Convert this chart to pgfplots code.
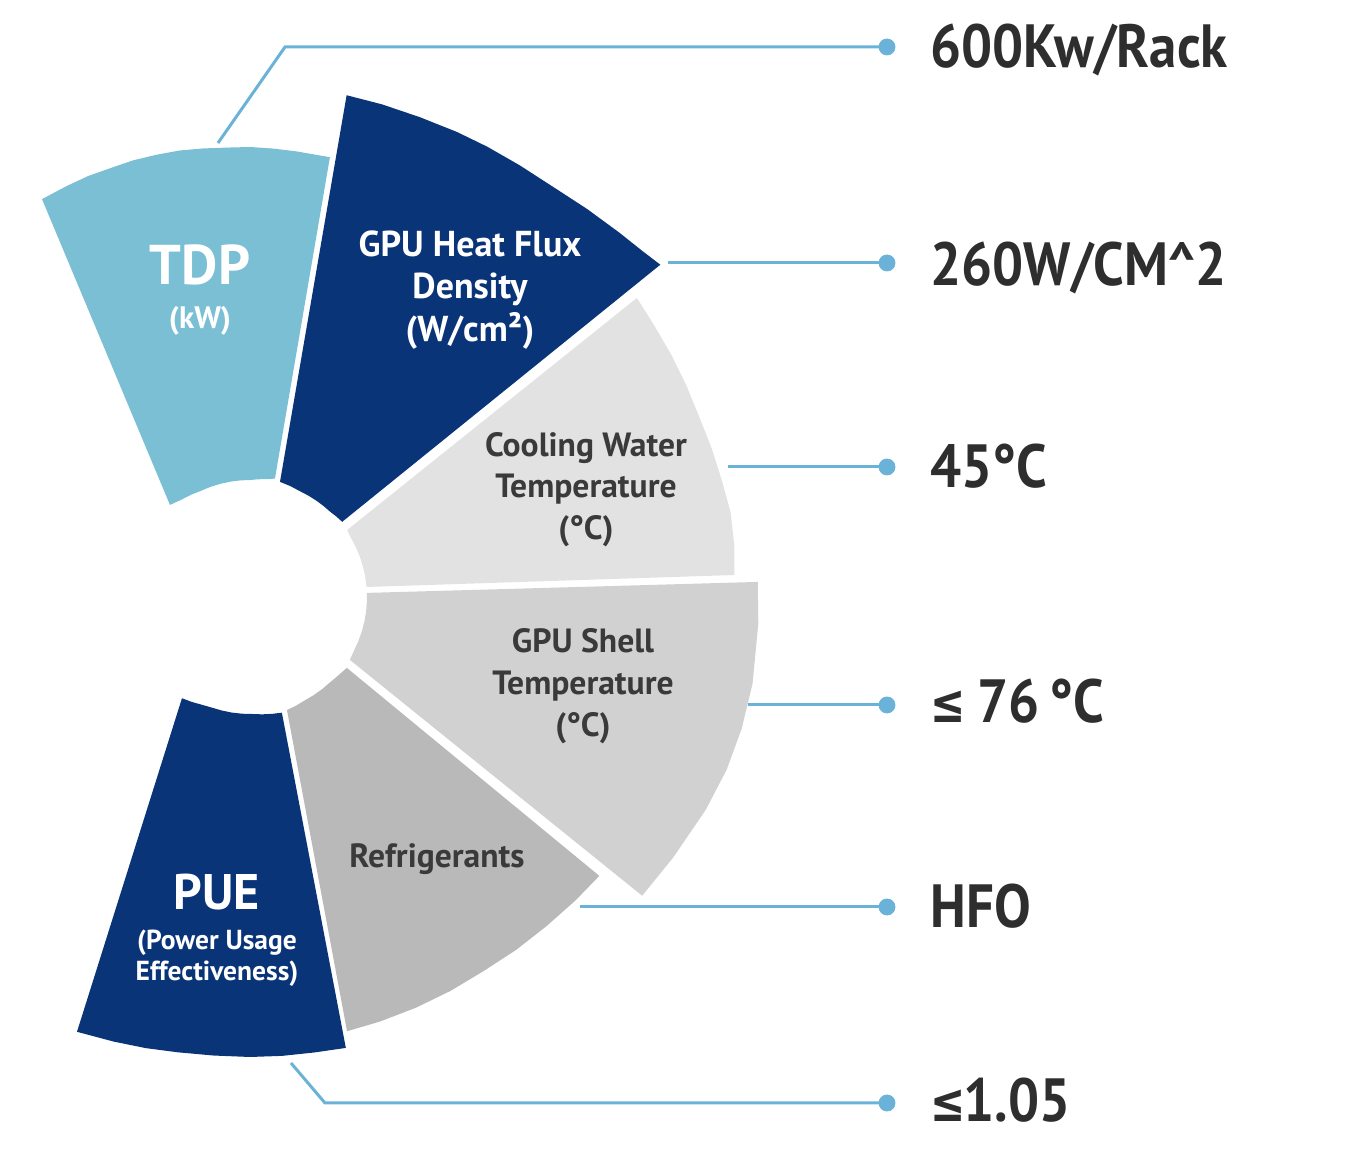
\documentclass[border=0pt]{standalone}
\usepackage{fontspec}
\setmainfont{PT Sans}
\newfontfamily\lblfont{PT Sans}[FakeStretch=0.9]
\newfontfamily\symfont{DejaVu Sans}[FakeStretch=0.78]
\usepackage{pgfplots}
\pgfplotsset{compat=1.18}
\usepgfplotslibrary{polar}
\definecolor{lblue}{HTML}{7BBFD4}
\definecolor{navy}{HTML}{0A3478}
\definecolor{gA}{HTML}{E2E2E2}
\definecolor{gB}{HTML}{D1D1D1}
\definecolor{gC}{HTML}{B9B9B9}
\definecolor{linec}{HTML}{6AB2D7}
\definecolor{txt}{HTML}{2E2E2E}
\definecolor{gtxt}{HTML}{3A3A3A}
\newcommand{\LE}{{\symfont\fontsize{27}{30}\selectfont\bfseries ≤}}
\begin{document}
\begin{tikzpicture}
\begin{axis}[x=0.5pt, y=0.5pt, xmin=-250, xmax=1116, ymin=-554, ymax=597,
  hide axis, clip=false]
\path (rel axis cs:0,0) rectangle (rel axis cs:1,1);
% TDP
\addplot[fill=lblue, draw=none, data cs=polar] coordinates {
(117.6,449) (114,450) (111,451) (108,451) (105,452) (102,452) (99,452) (96,451)
(93,450) (90,450) (87,449) (84,448) (81,447) (79.7,447)
(78.1,121) (82,119) (86,118) (90,117) (95,117) (100,117) (105,117) (110,117)
(115,117) (120,118) (125,119) (131,122)} -- cycle;
% GPU Heat Flux
\addplot[fill=navy, draw=none, data cs=polar] coordinates {
(79.1,511) (75,510) (70.5,509) (66,509) (62.2,509) (58,509) (53.5,510) (49,514)
(44.5,519) (41.5,523) (39,528)
(39.2,119) (43,118) (47,117) (51,117) (55,117) (60,117) (65,117) (70,118) (75.4,119)} -- cycle;
% Cooling Water
\addplot[fill=gA, draw=none, data cs=polar] coordinates {
(34.6,118) (37.7,489) (34,487) (30,486) (26,485) (22,484) (18,485) (14,486) (10,488)
(6,487) (2.6,485)
(4.9,117) (10,117) (15,117) (20,117) (25,117) (30,117)} -- cycle;
% GPU Shell
\addplot[fill=gB, draw=none, data cs=polar] coordinates {
(2,117) (1.7,508) (-3,509) (-9.8,510) (-15,509) (-19.9,507) (-25,503) (-31.6,497) (-37.3,493)
(-32.2,118) (-27,117) (-22,117) (-17,117) (-12,117) (-7,117) (-2,117)} -- cycle;
% Refrigerants
\addplot[fill=gC, draw=none, data cs=polar] coordinates {
(-36.2,120) (-38.6,447) (-43,445) (-48,443) (-53,442) (-58,441) (-63,442) (-68,443)
(-73,444) (-77.4,445)
(-71.9,119) (-67,118) (-62,117) (-57,117) (-52,117) (-47,117) (-42,118)} -- cycle;
% PUE
\addplot[fill=navy, draw=none, data cs=polar] coordinates {
(-74.6,120) (-78,461) (-82,460) (-86,460) (-90,460) (-94.5,460) (-99,461) (-103,463)
(-107,465) (-111.7,468)
(-123.9,122) (-119,120) (-114,118) (-109,117) (-104,117) (-99,117) (-94,117)
(-89,117) (-84,118) (-79,119)} -- cycle;
% connector lines
\addplot[linec, line width=1.5pt] coordinates {(-32,454) (35,550) (637,550)};
\addplot[linec, line width=1.5pt] coordinates {(418,334) (637,334)};
\addplot[linec, line width=1.5pt] coordinates {(478,130) (637,130)};
\addplot[linec, line width=1.5pt] coordinates {(498,-108) (637,-108)};
\addplot[linec, line width=1.5pt] coordinates {(330,-310) (637,-310)};
\addplot[linec, line width=1.5pt] coordinates {(41,-466) (75,-506) (637,-506)};
\addplot[only marks, mark=*, mark size=4pt, mark options={fill=linec, draw=linec}]
  coordinates {(637,550) (637,334) (637,130) (637,-108) (637,-310) (637,-506)};
% right labels
\begin{scope}[every node/.style={inner sep=0pt, anchor=base west, text=txt, font=\lblfont\fontsize{30.5}{36}\selectfont\bfseries}]
\node at (axis cs:680,529) {600Kw/Rack};
\node at (axis cs:680,311) {260W/CM\textasciicircum 2};
\node at (axis cs:680,109) {45°C};
\node at (axis cs:680,-126) {\LE\hspace{6pt}76\hspace{5pt}°C};
\node at (axis cs:680,-331) {HFO};
\node at (axis cs:680,-525) {\LE\hspace{-1pt}1.05};
\end{scope}
% sector labels
\begin{scope}[every node/.style={inner sep=0pt, anchor=base}]
\node[text=white, font=\fontsize{28}{34}\selectfont\bfseries] at (axis cs:-50,312) {TDP};
\node[text=white, font=\fontsize{15.5}{18}\selectfont\bfseries] at (axis cs:-50,268) {(kW)};
\node[text=white, font=\fontsize{18}{21}\selectfont\bfseries] at (axis cs:220,340) {GPU Heat Flux};
\node[text=white, font=\fontsize{18}{21}\selectfont\bfseries] at (axis cs:220,298) {Density};
\node[text=white, font=\fontsize{18}{21}\selectfont\bfseries] at (axis cs:220,255) {(W/cm²)};
\node[text=gtxt, font=\fontsize{16.8}{20}\selectfont\bfseries] at (axis cs:336,140) {Cooling Water};
\node[text=gtxt, font=\fontsize{16.8}{20}\selectfont\bfseries] at (axis cs:336,99) {Temperature};
\node[text=gtxt, font=\fontsize{16.8}{20}\selectfont\bfseries] at (axis cs:336,57) {(°C)};
\node[text=gtxt, font=\fontsize{16.8}{20}\selectfont\bfseries] at (axis cs:333,-56) {GPU Shell};
\node[text=gtxt, font=\fontsize{16.8}{20}\selectfont\bfseries] at (axis cs:333,-98) {Temperature};
\node[text=gtxt, font=\fontsize{16.8}{20}\selectfont\bfseries] at (axis cs:333,-140) {(°C)};
\node[text=gtxt, font=\fontsize{16.8}{20}\selectfont\bfseries] at (axis cs:187,-271) {Refrigerants};
\node[text=white, font=\fontsize{25}{30}\selectfont\bfseries] at (axis cs:-33,-313) {PUE};
\node[text=white, font=\fontsize{13.75}{16}\selectfont\bfseries] at (axis cs:-33,-353) {(Power Usage};
\node[text=white, font=\fontsize{13.75}{16}\selectfont\bfseries] at (axis cs:-33,-384) {Effectiveness)};
\end{scope}
\end{axis}
\end{tikzpicture}
\end{document}
